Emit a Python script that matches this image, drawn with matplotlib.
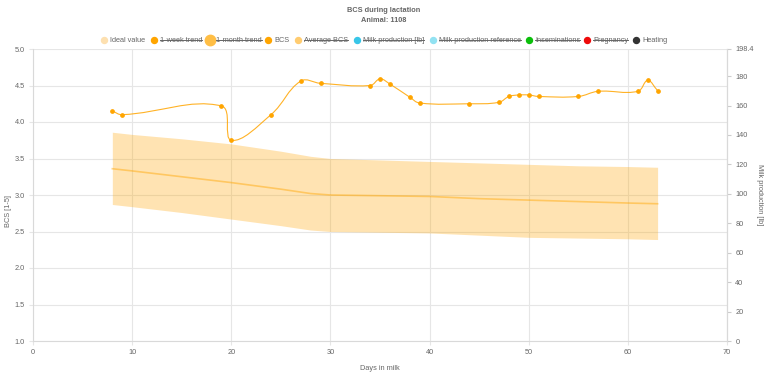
import numpy as np
import matplotlib.pyplot as plt
from matplotlib.path import Path
from matplotlib.patches import PathPatch
from matplotlib.lines import Line2D

plt.rcParams['font.family'] = ['Liberation Sans', 'DejaVu Sans']

# BCS measurements
days = [8, 9, 19, 20, 24, 27, 29, 34, 35, 36, 38, 39, 44, 47, 48, 49, 50, 51, 55, 57, 61, 62, 63]
bcs = [4.15, 4.10, 4.22, 3.75, 4.10, 4.56, 4.53, 4.50, 4.59, 4.52, 4.34, 4.26, 4.25,
       4.27, 4.35, 4.37, 4.37, 4.35, 4.35, 4.42, 4.42, 4.57, 4.43]

# ideal value band
ideal_days = [8, 10, 15, 20, 25, 28, 30, 35, 40, 45, 50, 55, 60, 63]
ideal = [3.36, 3.33, 3.25, 3.17, 3.08, 3.02, 3.00, 2.99, 2.98, 2.95, 2.93, 2.91, 2.89, 2.88]
ideal_upper = [3.86, 3.83, 3.77, 3.70, 3.60, 3.53, 3.50, 3.48, 3.46, 3.44, 3.42, 3.40, 3.39, 3.38]
ideal_lower = [2.87, 2.84, 2.76, 2.67, 2.58, 2.52, 2.50, 2.49, 2.48, 2.45, 2.42, 2.41, 2.40, 2.39]

right_ticks = [0, 20, 40, 60, 80, 100, 120, 140, 160, 180, 198.4]

legend_labels = ['Ideal value', '1-week trend', '1-month trend', 'BCS', 'Average BCS',
                 'Milk production [lb]', 'Milk production reference', 'Inseminations',
                 'Pregnancy', 'Heating']
legend_colors = ['#FDE0B0', '#FFA500', '#FFBE45', '#FFA500', '#FFCC70',
                 '#38C6E8', '#92E2F2', '#0BBF0B', '#EE0A0A', '#333333']
legend_hidden = [False, True, True, False, True, True, True, True, True, False]
legend_x = [104, 154, 210, 268, 298, 357, 433, 529, 587, 636]

W, H = 768, 372
grid_c = '#E6E6E6'
txt_c = '#666666'
fs = 5.3

fig = plt.figure(figsize=(W / 100, H / 100), dpi=100)
ax = fig.add_axes([33 / W, 1 - 341 / H, (727 - 33) / W, (341 - 49) / H])
ax.set_xlim(0, 70)
ax.set_ylim(1, 5)
ax.set_xticks(range(0, 71, 10))
ax.set_yticks(np.arange(1, 5.01, 0.5))
ax.set_yticklabels(['%.1f' % v for v in np.arange(1, 5.01, 0.5)])
ax.grid(True, color=grid_c, lw=0.8)
ax.set_axisbelow(True)
for s in ax.spines.values():
    s.set_color('#D9D9D9')
    s.set_linewidth(0.8)
ax.spines['top'].set_visible(False)
ax.tick_params(colors=grid_c, labelcolor=txt_c, labelsize=fs, length=3, width=0.8, pad=3)
ax.set_xlabel('Days in milk', fontsize=fs, color=txt_c, labelpad=6)
ax.set_ylabel('BCS [1-5]', fontsize=fs, color=txt_c, va='center', ha='center')
ax.yaxis.set_label_coords(-0.035, 0.445)

ax2 = ax.twinx()
ax2.set_ylim(0, 198.4)
ax2.set_yticks(right_ticks)
ax2.set_yticklabels(['%g' % v for v in right_ticks])
ax2.tick_params(colors='#CCCCCC', labelcolor=txt_c, labelsize=fs, length=3, width=0.8, pad=3)
for s in ax2.spines.values():
    s.set_visible(False)
ax2.spines['right'].set_visible(True)
ax2.spines['right'].set_color('#D9D9D9')
ax2.spines['right'].set_linewidth(0.8)
ax2.set_ylabel('Milk production [lb]', fontsize=fs, color=txt_c, rotation=270, va='center')
ax2.yaxis.set_label_coords(1.047, 0.5)

# ideal band + average line
ax.fill_between(ideal_days, ideal_lower, ideal_upper, color='#FFA500', alpha=0.3, lw=0)
ax.plot(ideal_days, ideal, color='#FFA500', alpha=0.45, lw=1.2)


def spline_path(xs, ys, t=0.4):
    # Chart.js style cubic interpolation computed in pixel space
    pts = ax.transData.transform(np.column_stack([xs, ys]))
    n = len(pts)
    cprev = pts.copy()
    cnext = pts.copy()
    for i in range(n):
        p = pts[i - 1] if i > 0 else pts[i]
        q = pts[i + 1] if i < n - 1 else pts[i]
        d01 = np.hypot(*(pts[i] - p))
        d12 = np.hypot(*(q - pts[i]))
        tot = d01 + d12
        s01 = d01 / tot if tot else 0
        s12 = d12 / tot if tot else 0
        cprev[i] = pts[i] - t * s01 * (q - p)
        cnext[i] = pts[i] + t * s12 * (q - p)
    verts = [pts[0]]
    codes = [Path.MOVETO]
    for i in range(n - 1):
        verts += [cnext[i], cprev[i + 1], pts[i + 1]]
        codes += [Path.CURVE4] * 3
    verts = ax.transData.inverted().transform(np.array(verts))
    return Path(verts, codes)


ax.add_patch(PathPatch(spline_path(days, bcs), fill=False, edgecolor='#FFA500', lw=0.8, alpha=0.85))
ax.plot(days, bcs, ls='none', marker='o', ms=2.4, color='#FFA500', mec='#FFA500')

# title
fig.text(0.5, 1 - 11 / H, 'BCS during lactation', ha='center', va='center',
         fontsize=fs, fontweight='bold', color=txt_c)
fig.text(0.5, 1 - 21 / H, 'Animal: 1108', ha='center', va='center',
         fontsize=fs, fontweight='bold', color=txt_c)

# legend
ly = 1 - 40 / H
texts = []
for lab, c, hid, x in zip(legend_labels, legend_colors, legend_hidden, legend_x):
    ms = 7.5 if lab == '1-month trend' else 4.3
    fig.add_artist(Line2D([x / W], [ly], marker='o', ms=ms, color=c, mec=c, ls='none',
                          transform=fig.transFigure))
    t = fig.text((x + 6) / W, ly, lab, ha='left', va='center', fontsize=fs, color=txt_c)
    texts.append((t, hid))

fig.canvas.draw()
r = fig.canvas.get_renderer()
for t, hid in texts:
    if hid:
        bb = t.get_window_extent(r)
        fig.add_artist(Line2D([bb.x0 / W, bb.x1 / W], [ly, ly], color=txt_c, lw=0.7,
                              transform=fig.transFigure))

fig.savefig('out.png', dpi=100)
